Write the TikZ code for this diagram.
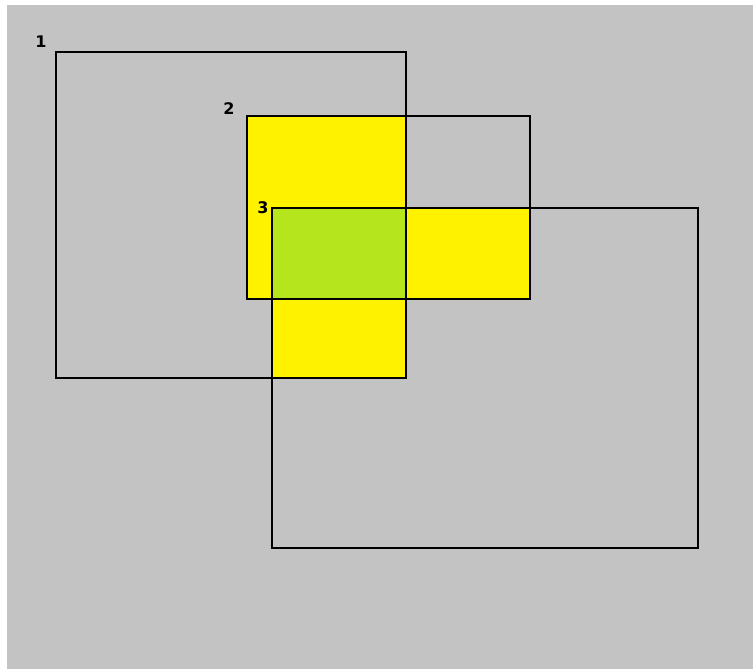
\documentclass[tikz,border=0pt]{standalone}
\usepackage{fontspec}
\setmainfont{DejaVu Sans}
\definecolor{bggray}{HTML}{C3C3C3}
\definecolor{pyellow}{HTML}{FFF200}
\definecolor{plime}{HTML}{B5E61D}
\begin{document}
\begin{tikzpicture}[x=1pt,y=-1pt,
  outline/.style={draw=black,line width=1.8pt},
  numlabel/.style={font=\bfseries\fontsize{16}{16}\selectfont,text=black,inner sep=0pt}]
\useasboundingbox (0,0) rectangle (753,669);
\fill[white] (0,0) rectangle (753,669);
\fill[bggray] (7,5) rectangle (753,669);
% overlaps
\fill[pyellow] (247,116) rectangle (406,299);
\fill[pyellow] (272,208) rectangle (530,299);
\fill[pyellow] (272,299) rectangle (406,378);
\fill[plime] (272,208) rectangle (406,299);
% rectangles
\draw[outline] (56,52) rectangle (406,378);
\draw[outline] (247,116) rectangle (530,299);
\draw[outline] (272,208) rectangle (698,548);
% labels
\node[numlabel] (l1) at (41,42) {1};
\node[numlabel] (l2) at (229,109) {2};
\node[numlabel] (l3) at (263,208) {3};
\end{tikzpicture}
\end{document}
